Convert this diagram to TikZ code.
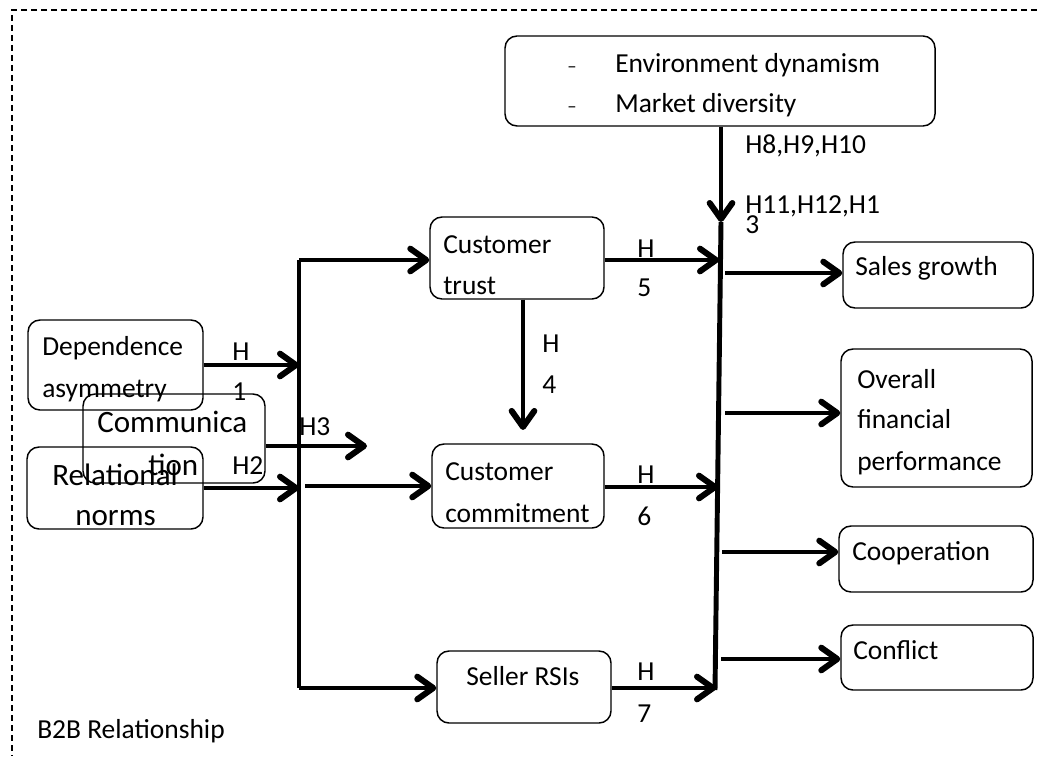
\documentclass[tikz,border=0pt]{standalone}
\usepackage{fontspec}
\setmainfont{Carlito}
\usetikzlibrary{arrows.meta,fit}
\tikzset{
  bx/.style={draw, rounded corners=9pt, line width=1.1pt, inner sep=0pt},
  txt/.style={anchor=base west, inner sep=0pt, font=\fontsize{20.6}{24}\selectfont},
  big/.style={anchor=base west, inner sep=0pt, font=\fontsize{23.3}{27}\selectfont},
  arr/.style={line width=3.7pt, -{Straight Barb[length=12pt,width=17pt,line width=4.5pt,round]}},
  thk/.style={line width=3.7pt},
}
\begin{document}
\begin{tikzpicture}[x=0.75pt,y=-0.75pt]
\useasboundingbox (0,0) rectangle (1037,756);
% dashed frame
\draw[line width=0.9pt, dash pattern=on 4.5pt off 3pt] (1037,10) -- (12,10) -- (12,756);

% boxes
\node[bx, fit={(505,36) (935,126)}] (env) {};
\node[bx, fit={(430,217) (604,299)}] (trust) {};
\node[bx, fit={(843,242) (1033,308)}] (sales) {};
\node[bx, fit={(28,320) (203,410)}] (dep) {};
\node[bx, fit={(83,394) (265,483)}] (comm) {};
\node[bx, fit={(27,447) (203,529)}] (rel) {};
\node[bx, fit={(841,349) (1032,487)}] (overall) {};
\node[bx, fit={(432,444) (604,528)}] (commit) {};
\node[bx, fit={(839,526) (1033,592)}] (coop) {};
\node[bx, fit={(437,651) (611,723)}] (seller) {};
\node[bx, fit={(841,625) (1033,690)}] (conflict) {};

% texts in boxes
\node[txt] (e0) at (567,73) {\fontsize{14}{16}\selectfont –};
\node[txt] (e1) at (615,73) {Environment dynamism};
\node[txt] (e2) at (567,113) {\fontsize{14}{16}\selectfont –};
\node[txt] (e3) at (615,113) {Market diversity};
\node[txt] (t1) at (443,253) {Customer};
\node[txt] (t2) at (443,294) {trust};
\node[txt] (s1) at (855,275) {Sales growth};
\node[txt] (d1) at (42,355) {Dependence};
\node[txt] (d2) at (42,397) {asymmetry};
\node[big] (c1) at (97,432) {Communica};
\node[big] (c2) at (148,475) {tion};
\node[big] (r1) at (52,485) {Relational};
\node[big] (r2) at (75,525) {norms};
\node[txt] (o1) at (857,388) {Overall};
\node[txt] (o2) at (857,428) {financial};
\node[txt] (o3) at (857,470) {performance};
\node[txt] (m1) at (445,480) {Customer};
\node[txt] (m2) at (445,522) {commitment};
\node[txt] (k1) at (852,560) {Cooperation};
\node[txt] (r3) at (466,685) {Seller RSIs};
\node[txt] (f1) at (853,659) {Conflict};
\node[txt] (b2b) at (37,738) {B2B Relationship};

% hypothesis labels
\node[txt] (h1a) at (232,360) {H};
\node[txt] (h1b) at (232,400) {1};
\node[txt] (h2) at (232,474) {H2};
\node[txt] (h3) at (299,435) {H3};
\node[txt] (h4a) at (542,352) {H};
\node[txt] (h4b) at (542,393) {4};
\node[txt] (h5a) at (637,257) {H};
\node[txt] (h5b) at (637,296) {5};
\node[txt] (h6a) at (637,483) {H};
\node[txt] (h6b) at (637,525) {6};
\node[txt] (h7a) at (637,680) {H};
\node[txt] (h7b) at (637,722) {7};
\node[txt] (h8) at (745,153) {H8,H9,H10};
\node[txt] (h11) at (745,213) {H11,H12,H1};
\node[txt] (h13) at (745,233) {3};

% coordinates
\coordinate (lt) at (299,260);
\coordinate (lb) at (299,688);
\coordinate (jd) at (299,365);
\coordinate (jr) at (299,488);
\coordinate (jc) at (367,446);
\coordinate (jm) at (305,486);
\coordinate (vx) at (523,0);
\coordinate (rt) at (721,222);
\coordinate (rb) at (715,690);
\coordinate (q5) at (719,260);
\coordinate (q6) at (718,487);
\coordinate (q7) at (716,688);
\coordinate (o1s) at (725,273);
\coordinate (o2s) at (725,413);
\coordinate (o3s) at (722,552);
\coordinate (o4s) at (721,659);

% left trunk
\draw[thk] (lt) -- (lb);
\draw[arr] (dep.east) -- (jd);
\draw[arr] (rel.east) -- (jr);
\draw[arr] (comm.east |- jc) -- (jc);
\draw[arr] (lt) -- (lt -| trust.west);
\draw[arr] (jm) -- (jm -| commit.west);
\draw[arr] (lb) -- (lb -| seller.west);
\draw[arr, shorten >=10pt] (trust.south -| vx) -- (commit.north -| vx);

% right trunk
\draw[arr] (env.south -| rt) -- (rt);
\draw[thk] (rt) -- (rb);
\draw[arr] (trust.east |- q5) -- (q5);
\draw[arr] (commit.east |- q6) -- (q6);
\draw[arr] (seller.east |- q7) -- (q7);
\draw[arr] (o1s) -- (o1s -| sales.west);
\draw[arr] (o2s) -- (o2s -| overall.west);
\draw[arr] (o3s) -- (o3s -| coop.west);
\draw[arr] (o4s) -- (o4s -| conflict.west);
\end{tikzpicture}
\end{document}
